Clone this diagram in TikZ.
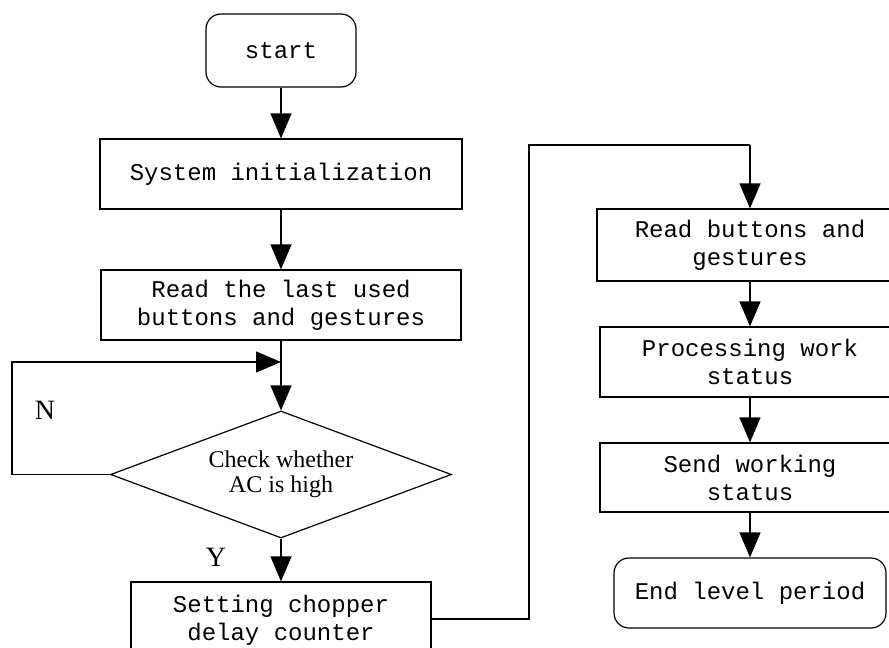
\documentclass[tikz,border=0pt]{standalone}
\usepackage{fontspec}
\setmonofont{Liberation Mono}
\newfontfamily\serfont{Liberation Serif}
\usetikzlibrary{shapes.geometric,arrows.meta}
\tikzset{
  box/.style={draw, line width=1.2pt, inner sep=0pt, align=center,
    font=\ttfamily\fontsize{24}{28}\selectfont},
  roundbox/.style={box, rounded corners=15pt},
  decision/.style={draw, line width=1.2pt, shape=diamond, aspect=2.68, inner sep=0pt,
    minimum width=341pt, minimum height=127pt, align=center,
    font=\serfont\fontsize{24}{25}\selectfont},
  arr/.style={line width=1.2pt, -{Triangle[length=25pt,width=21pt]}},
  lbl/.style={font=\serfont\fontsize{28}{30}\selectfont}
}
\begin{document}
\begin{tikzpicture}[x=1pt,y=-1pt]
\useasboundingbox (0,0) rectangle (889,648);
\clip (0,0) rectangle (889,648);
\fill[white] (0,0) rectangle (889,648);
% left column
\node [roundbox, minimum width=150pt, minimum height=73pt] (start) at (281,50.5) {start};
\node [box, minimum width=362pt, minimum height=70pt] (init) at (281,174) {System initialization};
\node [box, minimum width=360pt, minimum height=70pt] (readlast) at (281,305) {Read the last used\\buttons and gestures};
\node [decision] (check) at (281,474.5) {Check whether\\AC is high};
\node [box, minimum width=300pt, minimum height=76pt] (chopper) at (281,620) {Setting chopper\\delay counter};
% right column
\node [box, minimum width=306pt, minimum height=72pt] (readbtn) at (750,245) {Read buttons and\\gestures};
\node [box, minimum width=300pt, minimum height=70pt] (proc) at (750,362) {Processing work\\status};
\node [box, minimum width=300pt, minimum height=69pt] (send) at (750,477.5) {Send working\\status};
\node [roundbox, minimum width=272pt, minimum height=70pt] (end) at (750,593) {End level period};
% helper points
\coordinate (join) at (281,362);
\coordinate (nl) at (12,474.5);
\coordinate (nt) at (12,362);
\coordinate (rb) at (529,619);
\coordinate (rt) at (529,145);
\coordinate (top) at (750,145);
% connectors
\draw [arr] (start) -- (init);
\draw [arr] (init) -- (readlast);
\draw [line width=1.2pt] (readlast.south) -- (join);
\draw [arr] (join) -- (check.north);
\draw [arr] (check.west) -- (nl) -- (nt) -- (join);
\draw [arr] (check.south) -- (chopper.north);
\draw [line width=1.2pt] (chopper.east |- rb) -- (rb) -- (rt) -- (top);
\draw [arr] (top) -- (readbtn.north);
\draw [arr] (readbtn) -- (proc);
\draw [arr] (proc) -- (send);
\draw [arr] (send) -- (end);
% labels
\node [lbl] (nlabel) at (45,410) {N};
\node [lbl] (ylabel) at (216,557) {Y};
\end{tikzpicture}
\end{document}
